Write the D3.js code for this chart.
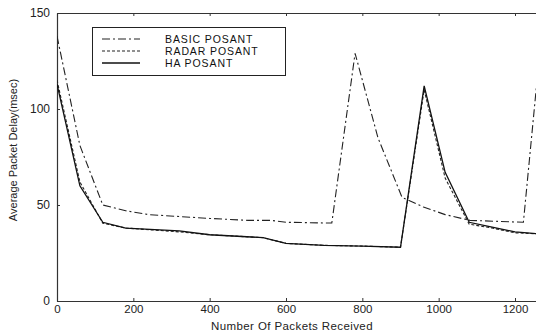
<!DOCTYPE html>
<html><head><meta charset="utf-8">
<script src="https://cdn.jsdelivr.net/npm/d3@7"></script>
<style>body{margin:0;background:#fff}svg{display:block}</style>
</head><body>
<script>
const xTicks = [0,200,400,600,800,1000,1200];
const yTicks = [0,50,100,150];
const seriesNames = ["BASIC POSANT","RADAR POSANT","HA POSANT"];
const basicX = [0,60,120,180,240,320,400,500,560,600,715,720,781,841,904,960,1017,1082,1222,1265];
const basicY = [138,81,50,47,45,44,43,42,42,41,40.6,40.6,129,85,54,49,45,42,41,130];
const radarX = [0,60,120,180,320,400,540,600,700,800,900,962,1017,1080,1140,1200,1260];
const radarY = [115,62,40.5,38,36,34.5,33,30,29,28.6,28,110,64,40,38,35.5,35];
const haX = [0,60,120,180,320,400,540,600,700,800,900,962,1017,1080,1140,1200,1260];
const haY = [113,60,41,38,36.5,34.5,33,30,29,28.6,28,112,67,41,38.5,36,35];

const W=536,H=332;
const svg=d3.select("body").append("svg").attr("width",W).attr("height",H);
const x=d3.scaleLinear().domain([0,1300]).range([57,57+1300*0.38167]);
const y=d3.scaleLinear().domain([0,150]).range([301,13]);
const font="'Liberation Sans', Arial, sans-serif";
const axCol="#333";

svg.append("defs").append("clipPath").attr("id","clip").append("rect")
  .attr("x",57).attr("y",13).attr("width",W-57).attr("height",288);

// axes
const gB=svg.append("g").attr("transform","translate(0,301)")
  .call(d3.axisBottom(x).tickValues(xTicks).tickFormat(d3.format("d")).tickSizeInner(-3).tickSizeOuter(0).tickPadding(4));
const gT=svg.append("g").attr("transform","translate(0,13)")
  .call(d3.axisTop(x).tickValues(xTicks).tickSizeInner(-3).tickSizeOuter(0).tickFormat(""));
const gL=svg.append("g").attr("transform","translate(57,0)")
  .call(d3.axisLeft(y).tickValues(yTicks).tickSizeInner(-3).tickSizeOuter(0).tickPadding(7));
[gB,gT,gL].forEach(g=>{
  g.select(".domain").attr("stroke",axCol).attr("stroke-width",1.2);
  g.selectAll(".tick line").attr("stroke",axCol);
  g.selectAll("text").attr("font-family",font).attr("font-size",12).attr("fill","#222");
});
gB.selectAll("text").attr("font-size",11.5);

const line=d3.line().x(d=>x(d[0])).y(d=>y(d[1]));
const styles=[
  {dash:"8,3,2,3",w:1.1,col:"#222"},
  {dash:"3,2",w:1.1,col:"#222"},
  {dash:null,w:1.3,col:"#111"}
];
const data=[d3.zip(basicX,basicY),d3.zip(radarX,radarY),d3.zip(haX,haY)];
const plot=svg.append("g").attr("clip-path","url(#clip)");
data.forEach((d,i)=>{
  plot.append("path").datum(d).attr("d",line).attr("fill","none")
    .attr("stroke",styles[i].col).attr("stroke-width",styles[i].w)
    .attr("stroke-dasharray",styles[i].dash);
});

// legend
const lg=svg.append("g");
lg.append("rect").attr("x",92.5).attr("y",27.5).attr("width",193).attr("height",48)
  .attr("fill","#fff").attr("stroke","#222").attr("stroke-width",1);
seriesNames.forEach((n,i)=>{
  const yy=39+i*12;
  lg.append("line").attr("x1",102).attr("x2",140).attr("y1",yy).attr("y2",yy)
    .attr("stroke",styles[i].col).attr("stroke-width",styles[i].w).attr("stroke-dasharray",styles[i].dash);
  lg.append("text").attr("x",165).attr("y",yy+4).text(n)
    .attr("font-family",font).attr("font-size",10.5).attr("letter-spacing",0.9).attr("fill","#111");
});

// axis titles
svg.append("text").attr("x",292).attr("y",330).attr("text-anchor","middle")
  .attr("font-family",font).attr("font-size",11.5).attr("letter-spacing",0.4).attr("fill","#222").text("Number Of Packets Received");
svg.append("text").attr("transform","translate(17,150) rotate(-90)").attr("text-anchor","middle")
  .attr("font-family",font).attr("font-size",11).attr("fill","#222").text("Average Packet Delay(msec)");
</script>
</body></html>
